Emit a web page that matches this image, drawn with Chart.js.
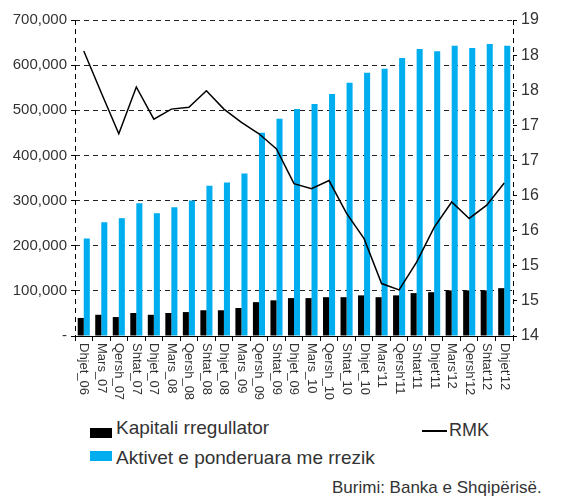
<!DOCTYPE html>
<html>
<head>
<meta charset="utf-8">
<script src="https://cdn.jsdelivr.net/npm/chart.js@4/dist/chart.umd.min.js"></script>
<style>
    body { margin: 0; background: #fff; }
    #wrap { position: relative; width: 574px; height: 500px; font-family: "Liberation Sans", Arial, sans-serif; color: #333; }
    #grafiku { position: absolute; left: 0; top: 0; }
    .kuti { position: absolute; width: 22px; height: 10px; }
    .tekst { position: absolute; font-size: 19px; line-height: 20px; white-space: nowrap; }
</style>
</head>
<body>
<div id="wrap">
    <canvas id="grafiku" width="574" height="400"></canvas>
    <div class="kuti" style="left:90px; top:428px; background:#000;"></div>
    <div class="tekst" style="left:116px; top:418px;">Kapitali rregullator</div>
    <div class="kuti" style="left:90px; top:451px; background:#00adef;"></div>
    <div class="tekst" style="left:116px; top:448px;">Aktivet e ponderuara me rrezik</div>
    <div style="position:absolute; left:422px; top:430px; width:25px; height:1.5px; background:#000;"></div>
    <div class="tekst" style="left:449px; top:420px; font-size:18px;">RMK</div>
    <div class="tekst" style="left:332px; top:478px; font-size:17px;">Burimi: Banka e Shqipërisë.</div>
</div>
<script>
// Periudhat (boshti X)
const etiketat = ['Dhjet_06', 'Mars_07', 'Qersh_07', 'Shtat_07', 'Dhjet_07', 'Mars_08', 'Qersh_08', 'Shtat_08',
    'Dhjet_08', 'Mars_09', 'Qersh_09', 'Shtat_09', 'Dhjet_09', 'Mars_10', 'Qersh_10', 'Shtat_10', 'Dhjet_10',
    "Mars'11", "Qersh'11", "Shtat'11", "Dhjet'11", "Mars'12", "Qersh'12", "Shtat'12", "Dhjet'12"];

// Kapitali rregullator
const kapitali = [40000, 47000, 42000, 51000, 47000, 51000, 53000, 57000, 57000, 62000, 75000, 79000, 84000,
    84000, 86000, 86000, 90000, 86000, 90000, 95000, 97000, 101000, 101000, 101000, 106000];

// Aktivet e ponderuara me rrezik
const aktivet = [216000, 252000, 261000, 294000, 272000, 285000, 300000, 333000, 340000, 360000, 450000, 481000,
    503000, 514000, 536000, 561000, 583000, 592000, 616000, 636000, 631000, 643000, 638000, 647000, 643000];

// Raporti i mjaftueshmërisë së kapitalit (boshti djathtas)
const rmk = [18.51, 17.85, 17.20, 17.94, 17.43, 17.59, 17.62, 17.88, 17.59, 17.38, 17.20, 16.96, 16.41, 16.33,
    16.46, 15.94, 15.54, 14.83, 14.73, 15.17, 15.72, 16.12, 15.86, 16.07, 16.42];

const shkronja = '"Liberation Sans", Arial, sans-serif';

// Etiketat e boshtit X, të rrotulluara nga lart poshtë
const etiketatX = {
    id: 'etiketatX',
    afterDraw(chart) {
        const x = chart.scales.x;
        const ctx = chart.ctx;
        ctx.save();
        ctx.font = '13px ' + shkronja;
        ctx.fillStyle = '#333';
        ctx.textAlign = 'left';
        ctx.textBaseline = 'middle';
        etiketat.forEach((t, i) => {
            ctx.save();
            ctx.translate(x.getPixelForValue(i), x.top + 7);
            ctx.rotate(Math.PI / 2);
            ctx.fillText(t, 0, 0);
            ctx.restore();
        });
        ctx.restore();
    }
};

// Vijat vertikale me ndërprerje (boshtet majtas e djathtas)
const bordet = {
    id: 'bordet',
    beforeDatasetsDraw(chart) {
        const ctx = chart.ctx;
        const a = chart.chartArea;
        ctx.save();
        ctx.strokeStyle = '#000';
        ctx.lineWidth = 1;
        ctx.setLineDash([5, 4]);
        [chart.scales.y.right, chart.scales.y1.left].forEach(px => {
            const xx = Math.round(px) + 0.5;
            ctx.beginPath();
            ctx.moveTo(xx, a.top);
            ctx.lineTo(xx, a.bottom);
            ctx.stroke();
        });
        ctx.restore();
    }
};

new Chart(document.getElementById('grafiku'), {
    data: {
        labels: etiketat,
        datasets: [
            {
                type: 'line', label: 'RMK', data: rmk, yAxisID: 'y1', order: 0,
                borderColor: '#000', borderWidth: 1.5, pointRadius: 0, tension: 0
            },
            {
                type: 'bar', label: 'Kapitali rregullator', data: kapitali, yAxisID: 'y', order: 1,
                backgroundColor: '#000', categoryPercentage: 0.69, barPercentage: 1
            },
            {
                type: 'bar', label: 'Aktivet e ponderuara me rrezik', data: aktivet, yAxisID: 'y', order: 2,
                backgroundColor: '#00adef', categoryPercentage: 0.69, barPercentage: 1
            }
        ]
    },
    options: {
        responsive: false,
        animation: false,
        devicePixelRatio: 1,
        layout: { padding: { top: 20, left: 0, right: 0, bottom: 0 } },
        plugins: { legend: { display: false }, tooltip: { enabled: false } },
        scales: {
            x: {
                offset: true,
                grid: { offset: true, drawOnChartArea: false, drawTicks: true, tickLength: 5, color: '#000' },
                border: { color: '#000', width: 1 },
                ticks: { display: false },
                afterFit: (s) => { s.height = 64; }
            },
            y: {
                position: 'left',
                min: 0, max: 700000,
                ticks: {
                    stepSize: 100000, color: '#333', padding: 4,
                    font: { family: shkronja, size: 15 },
                    callback: (v) => v === 0 ? '-' : v.toLocaleString('en-US')
                },
                grid: { color: '#222', tickLength: 4, tickColor: '#000', tickBorderDash: [] },
                border: { display: false, dash: [5, 4] },
                afterFit: (s) => { s.width = 75; }
            },
            y1: {
                position: 'right',
                min: 14, max: 19,
                ticks: {
                    count: 10, color: '#333', padding: 4,
                    font: { family: shkronja, size: 16 },
                    callback: (v) => Math.round(v)
                },
                grid: { drawOnChartArea: false, color: '#000', tickLength: 4 },
                border: { display: false },
                afterFit: (s) => { s.width = 61; }
            }
        }
    },
    plugins: [etiketatX, bordet]
});
</script>
</body>
</html>
